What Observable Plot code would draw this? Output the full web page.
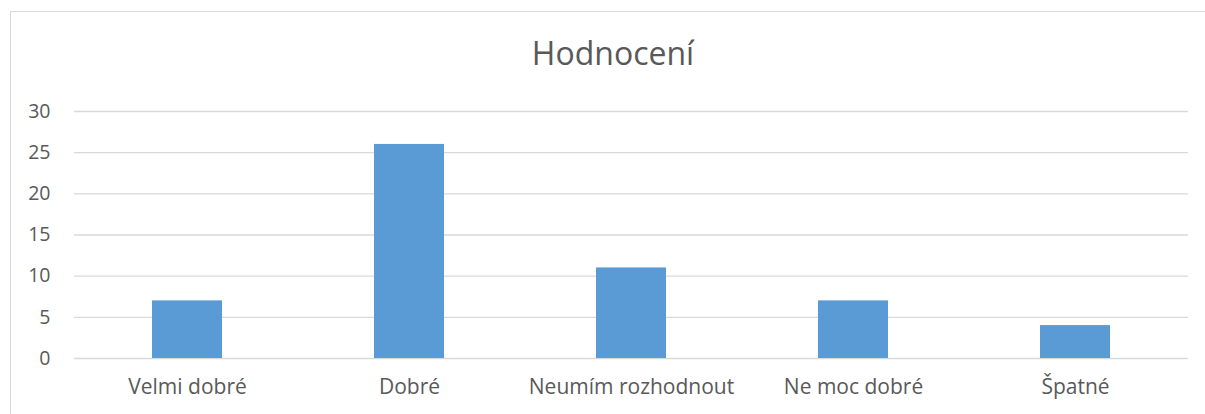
<!DOCTYPE html>
<html>
<head>
<meta charset="utf-8">
<script src="https://cdn.jsdelivr.net/npm/d3@7"></script>
<script src="https://cdn.jsdelivr.net/npm/@observablehq/plot@0.6"></script>
<style>
  html, body { margin: 0; padding: 0; background: #fff; }
  #wrap { position: relative; width: 1205px; height: 414px; overflow: hidden; font-family: "Open Sans", sans-serif; }
  #border { position: absolute; left: 10px; top: 11px; width: 1210px; height: 420px; border: 1px solid #d9d9d9; box-sizing: border-box; }
  #title { position: absolute; left: 413px; width: 400px; top: 36px; text-align: center; font-size: 32px; line-height: 34px; color: #595959; font-family: "Open Sans", sans-serif; }
  #chart { position: absolute; left: 0; top: 0; }
</style>
</head>
<body>
<div id="wrap">
  <div id="border"></div>
  <div id="chart"></div>
  <div id="title">Hodnocení</div>
</div>
<script>
const categories = ["Velmi dobré", "Dobré", "Neumím rozhodnout", "Ne moc dobré", "Špatné"];
const values = [7, 26, 11, 7, 4];
const yTicks = [0, 5, 10, 15, 20, 25, 30];

const data = categories.map((c, i) => ({category: c, value: values[i]}));

const chart = Plot.plot({
  width: 1205,
  height: 414,
  marginLeft: 74,
  marginRight: 17,
  marginTop: 111,
  marginBottom: 56,
  style: {background: "transparent", fontFamily: "'Open Sans', sans-serif", color: "#595959"},
  x: {domain: categories, paddingInner: 0.686, paddingOuter: 0.343, label: null},
  y: {domain: [0, 30], ticks: yTicks, label: null},
  marks: [
    Plot.ruleY(yTicks, {stroke: "#d9d9d9", strokeWidth: 1.3}),
    Plot.barY(data, {x: "category", y: "value", fill: "#5B9BD5"}),
    Plot.axisY({ticks: yTicks, tickSize: 0, tickPadding: 24, fontSize: 19.5, fill: "#595959", label: null}),
    Plot.axisX({tickSize: 0, tickPadding: 21, fontSize: 21, fill: "#595959", label: null})
  ]
});
document.getElementById("chart").appendChild(chart);
</script>
</body>
</html>
